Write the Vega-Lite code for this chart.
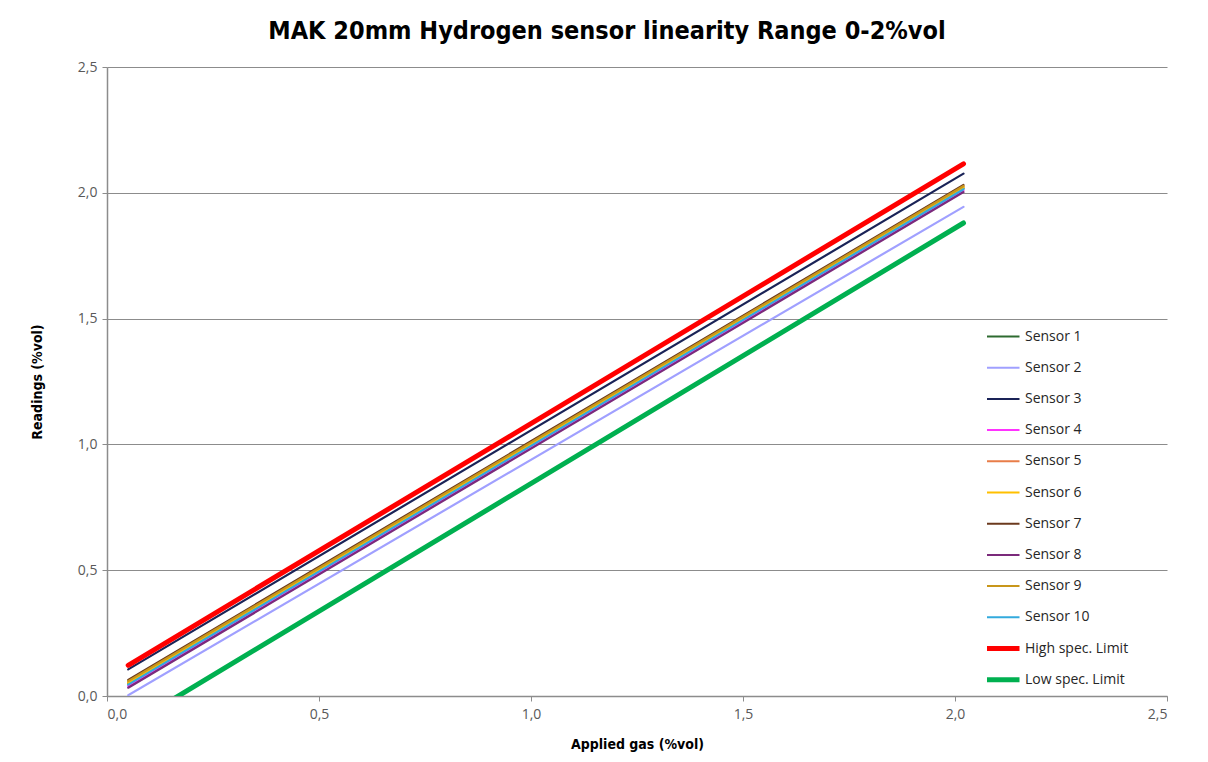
{
  "$schema": "https://vega.github.io/schema/vega-lite/v6.json",
  "width": 1060,
  "height": 629,
  "autosize": {"type": "none"},
  "padding": {"left": 107, "top": 67, "right": 41, "bottom": 66},
  "background": "white",
  "title": {
    "text": "MAK 20mm Hydrogen sensor linearity Range 0-2%vol",
    "font": "'DejaVu Sans Condensed', Roboto",
    "fontSize": 25,
    "fontWeight": "bold",
    "color": "#000000",
    "anchor": "middle",
    "dx": -30,
    "offset": 16
  },
  "config": {
    "view": {"stroke": null},
    "axis": {
      "labelFont": "Open Sans",
      "labelFontSize": 14,
      "labelColor": "#595959",
      "titleFont": "'DejaVu Sans Condensed', Roboto",
      "titleFontSize": 14,
      "titleFontWeight": "bold",
      "titleColor": "#000000",
      "domainColor": "#8c8c8c",
      "domainWidth": 1.5,
      "tickColor": "#8c8c8c",
      "tickSize": 5,
      "gridColor": "#8c8c8c",
      "gridWidth": 1.2
    },
    "legend": {
      "labelFont": "Open Sans",
      "labelFontSize": 14,
      "labelColor": "#262626"
    }
  },
  "data": {
    "values": [
      {"series": "Sensor 1", "x": 0.05, "y": 0.049},
      {"series": "Sensor 1", "x": 2.02, "y": 2.018},
      {"series": "Sensor 2", "x": 0.05, "y": 0.003},
      {"series": "Sensor 2", "x": 2.02, "y": 1.944},
      {"series": "Sensor 3", "x": 0.05, "y": 0.106},
      {"series": "Sensor 3", "x": 2.02, "y": 2.076},
      {"series": "Sensor 4", "x": 0.05, "y": 0.04},
      {"series": "Sensor 4", "x": 2.02, "y": 2.01},
      {"series": "Sensor 5", "x": 0.05, "y": 0.055},
      {"series": "Sensor 5", "x": 2.02, "y": 2.024},
      {"series": "Sensor 6", "x": 0.05, "y": 0.052},
      {"series": "Sensor 6", "x": 2.02, "y": 2.021},
      {"series": "Sensor 7", "x": 0.05, "y": 0.064},
      {"series": "Sensor 7", "x": 2.02, "y": 2.031},
      {"series": "Sensor 8", "x": 0.05, "y": 0.033},
      {"series": "Sensor 8", "x": 2.02, "y": 2.003},
      {"series": "Sensor 9", "x": 0.05, "y": 0.059},
      {"series": "Sensor 9", "x": 2.02, "y": 2.027},
      {"series": "Sensor 10", "x": 0.05, "y": 0.045},
      {"series": "Sensor 10", "x": 2.02, "y": 2.014},
      {"series": "High spec. Limit", "x": 0.05, "y": 0.122},
      {"series": "High spec. Limit", "x": 2.02, "y": 2.115},
      {"series": "Low spec. Limit", "x": 0.05, "y": -0.12},
      {"series": "Low spec. Limit", "x": 2.02, "y": 1.88}
    ]
  },
  "mark": {"type": "line", "clip": true, "strokeCap": "round"},
  "encoding": {
    "x": {
      "field": "x",
      "type": "quantitative",
      "scale": {"domain": [0, 2.5], "nice": false},
      "axis": {
        "title": "Applied gas (%vol)",
        "values": [0, 0.5, 1, 1.5, 2, 2.5],
        "labelExpr": "replace(format(datum.value, '.1f'), '.', ',')",
        "grid": false,
        "labelPadding": 6,
        "titleY": 41
      }
    },
    "y": {
      "field": "y",
      "type": "quantitative",
      "scale": {"domain": [0, 2.5], "nice": false},
      "axis": {
        "title": "Readings (%vol)",
        "values": [0, 0.5, 1, 1.5, 2, 2.5],
        "labelExpr": "replace(format(datum.value, '.1f'), '.', ',')",
        "labelPadding": 5,
        "titleX": -63
      }
    },
    "color": {
      "field": "series",
      "type": "nominal",
      "scale": {
        "domain": ["Sensor 1", "Sensor 2", "Sensor 3", "Sensor 4", "Sensor 5", "Sensor 6", "Sensor 7", "Sensor 8", "Sensor 9", "Sensor 10", "High spec. Limit", "Low spec. Limit"],
        "range": ["#2e6b30", "#a0a0ff", "#1a2357", "#ff33ff", "#e87d48", "#ffc000", "#6b3a1e", "#7b2a7b", "#c8961a", "#33aadd", "#ff0000", "#00b050"]
      },
      "legend": {
        "title": null,
        "orient": "none",
        "legendX": 880,
        "legendY": 261,
        "symbolType": "M-1,0H3",
        "symbolSize": 289,
        "symbolStrokeWidth": 2,
        "symbolFillColor": "transparent",
        "clipHeight": 17,
        "rowPadding": 14.2,
        "labelOffset": 24,
        "encode": {
          "symbols": {
            "update": {
              "strokeWidth": {"signal": "indexof(['High spec. Limit','Low spec. Limit'], datum.value) >= 0 ? 5 : 2"}
            }
          }
        }
      }
    },
    "strokeWidth": {
      "condition": {"test": "datum.series == 'High spec. Limit' || datum.series == 'Low spec. Limit'", "value": 5},
      "value": 2.2
    }
  }
}
